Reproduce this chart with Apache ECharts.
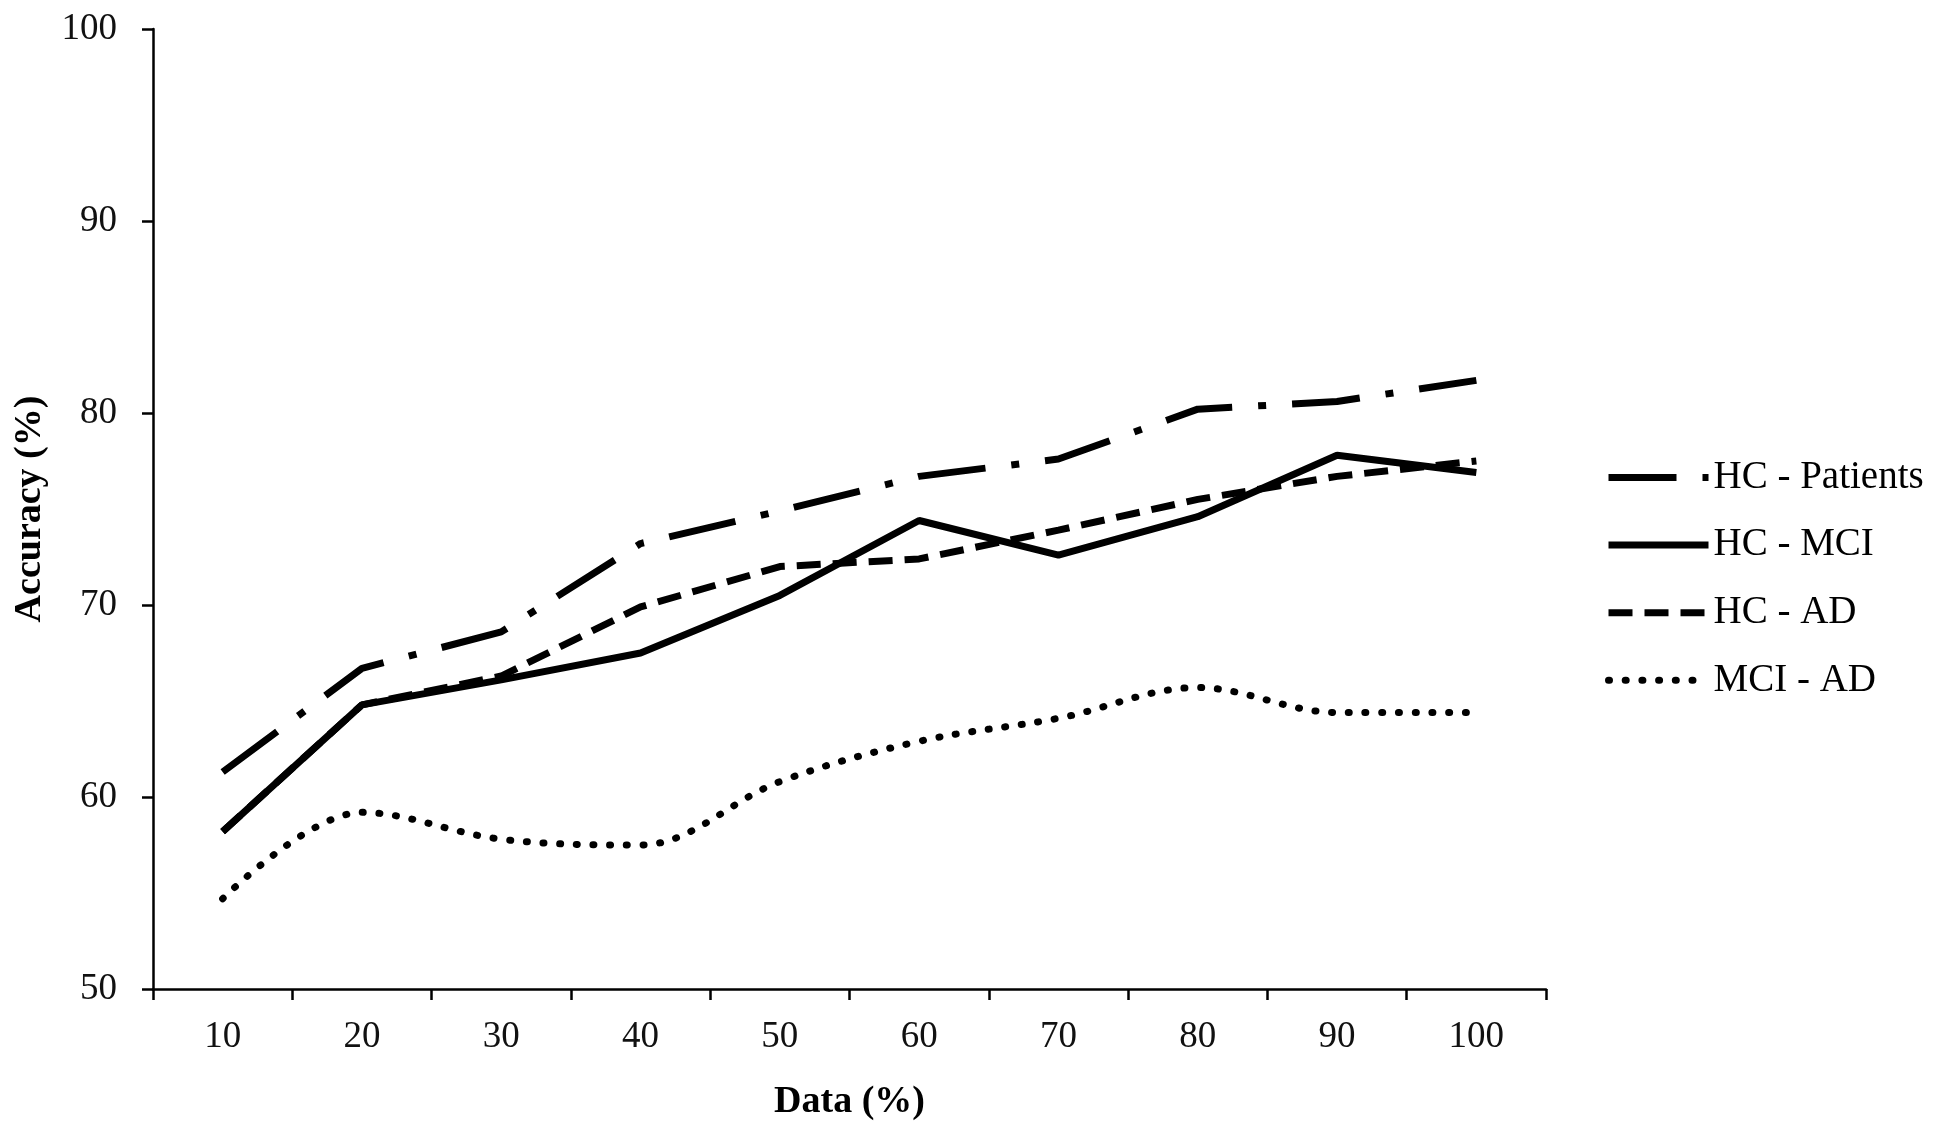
<!DOCTYPE html>
<html>
<head>
<meta charset="utf-8">
<title>Accuracy vs data</title>
<script src="https://cdn.jsdelivr.net/npm/echarts@6/dist/echarts.min.js"></script>
<style>
  html, body { margin: 0; padding: 0; background: #fff; }
  #chart { width: 1950px; height: 1138px; }
</style>
</head>
<body>
<div id="chart"></div>
<script>
// categories (x) and accuracy values
var dataPct = ['10', '20', '30', '40', '50', '60', '70', '80', '90', '100'];
var hcPatients = [61.3, 66.7, 68.6, 73.2, 74.9, 76.7, 77.6, 80.2, 80.6, 81.7];
var hcMci      = [58.2, 64.8, 66.1, 67.5, 70.5, 74.4, 72.6, 74.6, 77.8, 76.9];
var hcAd       = [58.2, 64.8, 66.3, 69.9, 72.0, 72.4, 73.9, 75.5, 76.7, 77.5];
var mciAd      = [54.7, 59.2, 57.8, 57.5, 60.8, 62.9, 64.1, 65.7, 64.4, 64.4];

var serifFont = '"Liberation Serif", "Times New Roman", serif';

var chart = echarts.init(document.getElementById('chart'));

function lineSeries(name, values, dash, cap, smooth) {
    return {
        name: name,
        type: 'line',
        data: values,
        symbol: 'none',
        smooth: smooth,
        itemStyle: { color: '#000' },
        lineStyle: { color: '#000', width: 7, type: dash, cap: cap }
    };
}

// legend entries carry the same stroke as their lines
function legendItem(name, dash, cap) {
    return {
        name: name,
        itemStyle: { opacity: 0 },
        lineStyle: { color: '#000', width: 7, type: dash, cap: cap }
    };
}

var option = {
    animation: false,
    backgroundColor: '#fff',
    grid: { left: 153, right: 404, top: 29, bottom: 149 },
    legend: {
        orient: 'vertical',
        left: 1605,
        top: 458,
        padding: 0,
        itemWidth: 100,
        itemHeight: 20,
        itemGap: 28.6,
        textStyle: { fontFamily: serifFont, fontSize: 39, color: '#000' },
        data: [
            legendItem('HC - Patients', [68, 26, 8, 26], 'butt'),
            legendItem('HC - MCI', 'solid', 'butt'),
            legendItem('HC - AD', [24, 12], 'butt'),
            legendItem('MCI - AD', [1, 15.7], 'round')
        ]
    },
    xAxis: {
        type: 'category',
        data: dataPct,
        boundaryGap: true,
        name: 'Data (%)',
        nameLocation: 'middle',
        nameGap: 94,
        nameTextStyle: { fontFamily: serifFont, fontSize: 38, fontWeight: 'bold', color: '#000' },
        axisLine: { lineStyle: { color: '#000', width: 2.5 } },
        axisTick: { show: true, inside: false, length: 11, lineStyle: { color: '#000', width: 2.5 } },
        axisLabel: { fontFamily: serifFont, fontSize: 37, color: '#111', margin: 30 },
        splitLine: { show: false }
    },
    yAxis: {
        type: 'value',
        min: 50,
        max: 100,
        interval: 10,
        name: 'Accuracy (%)',
        nameLocation: 'middle',
        nameGap: 104,
        nameTextStyle: { fontFamily: serifFont, fontSize: 38, fontWeight: 'bold', color: '#000' },
        axisLine: { show: true, lineStyle: { color: '#000', width: 2.5 } },
        axisTick: { show: true, inside: false, length: 11, lineStyle: { color: '#000', width: 2.5 } },
        axisLabel: { fontFamily: serifFont, fontSize: 37, color: '#111', margin: 36 },
        splitLine: { show: false }
    },
    series: [
        lineSeries('HC - Patients', hcPatients, [68, 26, 8, 26], 'butt', false),
        lineSeries('HC - MCI', hcMci, 'solid', 'butt', false),
        lineSeries('HC - AD', hcAd, [24, 12], 'butt', false),
        lineSeries('MCI - AD', mciAd, [1, 15.7], 'round', 0.35)
    ]
};

chart.setOption(option);
</script>
</body>
</html>
